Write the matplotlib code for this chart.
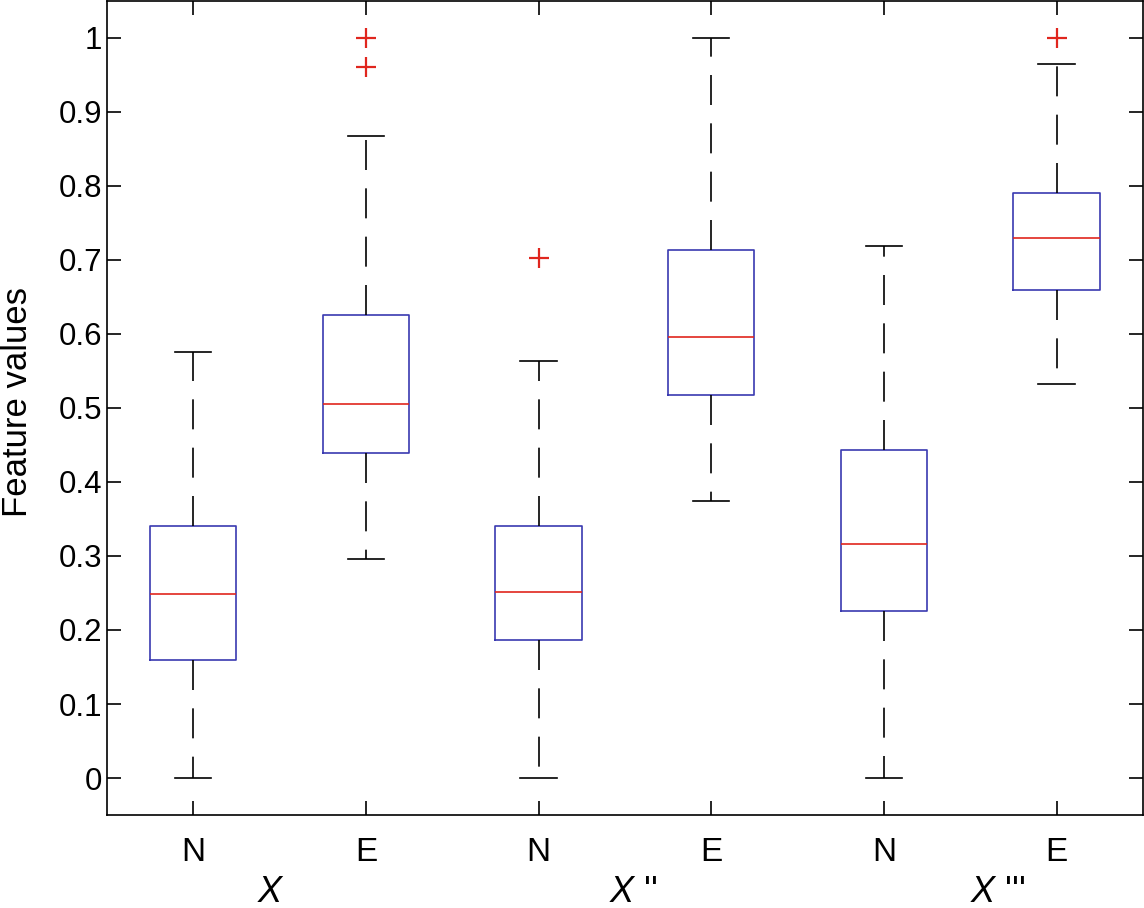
import matplotlib.pyplot as plt
from matplotlib import transforms

# box statistics
categories = ['N', 'E', 'N', 'E', 'N', 'E']
whislo = [0.0, 0.296, 0.0, 0.374, 0.0, 0.533]
q1 = [0.159, 0.439, 0.186, 0.517, 0.225, 0.659]
med = [0.249, 0.506, 0.251, 0.596, 0.316, 0.729]
q3 = [0.340, 0.625, 0.340, 0.713, 0.443, 0.791]
whishi = [0.576, 0.868, 0.564, 1.0, 0.719, 0.965]
fliers = [[], [1.0, 0.961], [0.703], [], [], [1.0]]

groups = ["X", "X ''", "X '''"]
group_pos = [1.37, 3.41, 5.5]

plt.rcParams['font.family'] = ['Liberation Sans', 'DejaVu Sans']
plt.rcParams['mathtext.fontset'] = 'custom'
plt.rcParams['mathtext.it'] = 'Liberation Sans:italic'

stats = []
for i in range(len(categories)):
    stats.append(dict(whislo=whislo[i], q1=q1[i], med=med[i], q3=q3[i],
                      whishi=whishi[i], fliers=fliers[i], label=categories[i]))

fig = plt.figure(figsize=(11.44, 9.08), dpi=100)
ax = fig.add_axes([0.0935, 0.1024, 0.9055, 0.8966])

blue = '#3a3ab0'
red = '#e0261e'
ax.bxp(stats, positions=range(1, 7), widths=0.5, capwidths=0.21,
       boxprops=dict(color=blue, lw=1.2),
       medianprops=dict(color=red, lw=1.2),
       whiskerprops=dict(color='black', lw=1.2, linestyle=(0, (18, 11))),
       capprops=dict(color='black', lw=1.2),
       flierprops=dict(marker='+', markeredgecolor=red, markersize=14, mew=1.6))

ax.set_xlim(0.5, 6.5)
ax.set_ylim(-0.05, 1.05)
ax.set_yticks([0, 0.1, 0.2, 0.3, 0.4, 0.5, 0.6, 0.7, 0.8, 0.9, 1])
ax.set_yticklabels(['0', '0.1', '0.2', '0.3', '0.4', '0.5', '0.6', '0.7', '0.8', '0.9', '1'])
ax.tick_params(direction='in', length=10, width=1.2, top=True, right=True,
               labelsize=22.5)
ax.tick_params(axis='x', pad=16, labelsize=24)
for lbl in ax.get_xticklabels():
    lbl.set_family(['Liberation Sans Narrow', 'Liberation Sans'])
for s in ax.spines.values():
    s.set_linewidth(1.2)
ax.set_ylabel('Feature values', fontsize=25)
ax.yaxis.set_label_coords(-0.0705, 0.507)

trans = transforms.blended_transform_factory(ax.transData, fig.transFigure)
for g, p in zip(groups, group_pos):
    name, _, primes = g.partition(' ')
    ax.text(p, 0.017, '$' + name + '$ ' + primes, transform=trans, fontsize=26,
            ha='left', va='center')

fig.savefig('out.png', dpi=100)
